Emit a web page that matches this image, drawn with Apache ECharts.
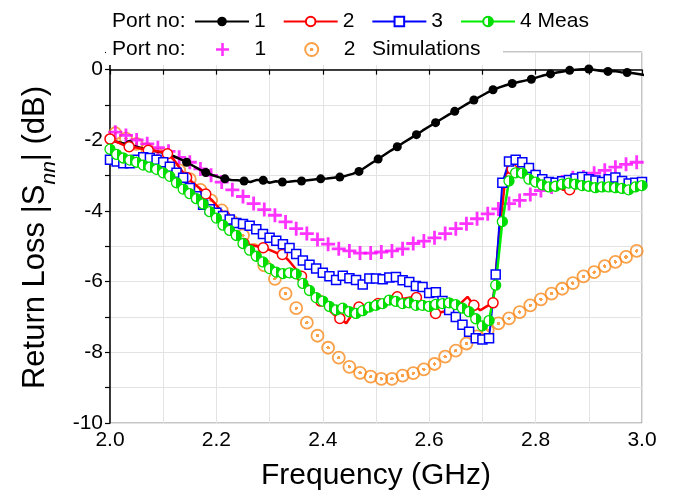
<!DOCTYPE html>
<html>
<head>
    <meta charset="utf-8">
    <title>Return loss</title>
    <script src="https://cdn.jsdelivr.net/npm/echarts@6/dist/echarts.min.js"></script>
    <style>
        html, body { margin: 0; padding: 0; background: #fff; }
        #chart { width: 675px; height: 498px; }
    </style>
</head>
<body>
<div id="chart"></div>
<script>
    // frequency grids (GHz)
    function grid(start, step, n) {
        var out = [];
        for (var i = 0; i < n; i++) out.push(+(start + i * step).toFixed(4));
        return out;
    }
    var freqA = grid(2.0, 0.012, 85);    // port 1 / port 2 measured
    var freqB = grid(2.0, 0.0125, 81);   // port 3 / port 4 measured
    var freqSim = grid(2.01, 0.02, 50);  // simulations

    // measured |Snn| (dB)
    var meas1 = [-2.00, -2.04, -2.08, -2.12, -2.17, -2.22, -2.27, -2.30, -2.34, -2.38,
        -2.45, -2.53, -2.62, -2.72, -2.82, -2.91, -2.98, -3.04, -3.09, -3.12,
        -3.13, -3.15, -3.18, -3.12, -3.13, -3.20, -3.16, -3.18, -3.17, -3.15,
        -3.15, -3.13, -3.11, -3.09, -3.08, -3.06, -3.04, -3.00, -2.95, -2.88,
        -2.76, -2.64, -2.53, -2.41, -2.29, -2.18, -2.06, -1.95, -1.84, -1.72,
        -1.61, -1.50, -1.39, -1.28, -1.18, -1.07, -0.96, -0.86, -0.76, -0.66,
        -0.57, -0.50, -0.44, -0.39, -0.35, -0.31, -0.27, -0.21, -0.16, -0.12,
        -0.08, -0.05, -0.02, 0.00, 0.01, 0.02, -0.01, -0.04, -0.05, -0.04,
        -0.07, -0.08, -0.10, -0.13, -0.16];
    var meas2 = [-1.96, -2.04, -2.12, -2.18, -2.20, -2.24, -2.28, -2.30, -2.32, -2.38,
        -2.55, -2.80, -3.05, -3.20, -3.35, -3.52, -3.70, -3.90, -4.15, -4.45,
        -4.75, -4.92, -4.96, -5.00, -5.04, -5.10, -5.18, -5.23, -5.40, -5.62,
        -5.85, -6.10, -6.35, -6.55, -6.75, -6.92, -7.04, -7.18, -6.90, -6.72,
        -6.70, -6.66, -6.62, -6.58, -6.50, -6.43, -6.48, -6.45, -6.45, -6.60,
        -6.76, -6.90, -6.86, -6.83, -6.80, -6.60, -6.43, -6.67, -6.81, -6.70,
        -6.60, -4.60, -2.95, -2.82, -2.80, -2.85, -2.95, -2.98, -3.10, -3.22,
        -3.30, -3.40, -3.40, -3.30, -3.25, -3.24, -3.26, -3.24, -3.28, -3.30,
        -3.28, -3.30, -3.32, -3.30, -3.28];
    var meas3 = [-2.55, -2.60, -2.65, -2.65, -2.55, -2.48, -2.50, -2.55, -2.62, -2.75,
        -2.92, -3.06, -3.35, -3.58, -3.82, -3.95, -4.05, -4.14, -4.24, -4.34,
        -4.37, -4.42, -4.52, -4.65, -4.76, -4.84, -4.94, -5.05, -5.22, -5.40,
        -5.52, -5.63, -5.75, -5.85, -5.95, -5.83, -5.90, -5.95, -6.08, -5.91,
        -5.91, -5.93, -5.88, -5.87, -5.96, -6.01, -6.12, -6.15, -6.32, -6.30,
        -6.55, -6.80, -7.00, -7.22, -7.42, -7.60, -7.64, -7.60, -5.80, -3.20,
        -2.60, -2.55, -2.62, -2.78, -2.98, -3.10, -3.18, -3.20, -3.16, -3.12,
        -3.08, -3.04, -3.10, -3.14, -3.18, -3.10, -3.05, -3.15, -3.22, -3.20,
        -3.18];
    var meas4 = [-2.25, -2.40, -2.50, -2.56, -2.62, -2.70, -2.76, -2.82, -2.92, -3.02,
        -3.20, -3.38, -3.51, -3.65, -3.80, -4.02, -4.20, -4.40, -4.55, -4.69,
        -4.92, -5.11, -5.28, -5.44, -5.63, -5.73, -5.77, -5.75, -5.78, -6.05,
        -6.25, -6.45, -6.55, -6.70, -6.80, -6.75, -6.85, -6.90, -6.82, -6.72,
        -6.67, -6.62, -6.52, -6.56, -6.62, -6.60, -6.67, -6.67, -6.70, -6.64,
        -6.62, -6.60, -6.65, -6.75, -6.85, -7.05, -7.25, -7.10, -6.10, -4.30,
        -3.15, -2.92, -2.93, -3.10, -3.18, -3.26, -3.32, -3.30, -3.24, -3.21,
        -3.24, -3.28, -3.30, -3.34, -3.32, -3.32, -3.34, -3.36, -3.40, -3.32,
        -3.28];

    // simulated |Snn| (dB)
    var sim1 = [-1.77, -1.86, -1.99, -2.10, -2.21, -2.31, -2.48, -2.62, -2.81, -2.99,
        -3.18, -3.40, -3.59, -3.79, -3.96, -4.12, -4.31, -4.50, -4.64, -4.81,
        -4.94, -5.07, -5.13, -5.19, -5.19, -5.16, -5.13, -5.07, -4.92, -4.85,
        -4.76, -4.64, -4.50, -4.36, -4.22, -4.08, -3.94, -3.79, -3.70, -3.53,
        -3.42, -3.32, -3.18, -3.06, -3.04, -2.93, -2.85, -2.76, -2.68, -2.62];
    var sim2 = [-1.80, -1.95, -2.10, -2.25, -2.40, -2.62, -2.85, -3.10, -3.40, -3.70,
        -3.98, -4.30, -4.69, -5.10, -5.54, -5.92, -6.34, -6.75, -7.16, -7.53,
        -7.87, -8.15, -8.41, -8.58, -8.69, -8.75, -8.75, -8.66, -8.59, -8.48,
        -8.33, -8.12, -7.95, -7.75, -7.55, -7.37, -7.18, -7.04, -6.86, -6.67,
        -6.50, -6.34, -6.20, -6.04, -5.85, -5.73, -5.56, -5.44, -5.30, -5.13];

    var legendText = {m1: '1', m2: '2', m3: '3', m4: '4 Meas', s1: '1', s2: '2'};
    var font = 'Arial, "Liberation Sans", sans-serif';

    function pairs(xs, ys, every) {
        return ys.map(function (v, i) {
            var item = {value: [xs[i], v]};
            if (every && i % every !== 0) item.symbol = 'none';
            return item;
        });
    }

    var chart = echarts.init(document.getElementById('chart'));
    var option = {
        animation: false,
        backgroundColor: '#fff',
        grid: {
            left: 110, right: 33, top: 52, bottom: 75,
            show: true, borderColor: '#8a8a8a', borderWidth: 1
        },
        legend: [{
            data: ['m1', 'm2', 'm3', 'm4'],
            left: 194, top: 11, padding: 0,
            itemWidth: 54, itemHeight: 12, itemGap: 17, z: 110,
            formatter: function (n) { return legendText[n]; },
            textStyle: {fontSize: 21, color: '#000', fontFamily: font}
        }, {
            data: ['s1', 's2'],
            left: 216, top: 39, padding: 0,
            itemWidth: 54, itemHeight: 13, itemGap: 38, z: 110,
            formatter: function (n) { return legendText[n]; },
            textStyle: {fontSize: 21, color: '#000', fontFamily: font}
        }],
        graphic: [
            {type: 'rect', z: 100, shape: {x: 106, y: 0, width: 397, height: 65}, style: {fill: '#fff'}},
            {type: 'text', z: 110, left: 112, top: 11,
                style: {text: 'Port no:', fontSize: 21, fill: '#000', fontFamily: font}},
            {type: 'text', z: 110, left: 112, top: 39,
                style: {text: 'Port no:', fontSize: 21, fill: '#000', fontFamily: font}},
            {type: 'text', z: 110, left: 372, top: 39,
                style: {text: 'Simulations', fontSize: 21, fill: '#000', fontFamily: font}}
        ],
        xAxis: {
            type: 'value', min: 2, max: 3, interval: 0.1,
            name: 'Frequency (GHz)', nameLocation: 'middle', nameGap: 38,
            nameTextStyle: {fontSize: 30, color: '#000', fontFamily: font},
            axisLine: {lineStyle: {color: '#000', width: 1.5}},
            axisTick: {length: 5, lineStyle: {color: '#000', width: 1.2}},
            axisLabel: {
                fontSize: 21, color: '#000', fontFamily: font, margin: 7,
                formatter: function (v) { return Math.round(v * 10) % 2 === 0 ? v.toFixed(1) : ''; }
            },
            splitLine: {lineStyle: {color: '#e3e3e3', width: 1}}
        },
        yAxis: {
            type: 'value', min: -10, max: 0.5, interval: 1,
            name: '{t|Return Loss |S}{s|nn}{t|| (dB)}', nameLocation: 'middle', nameGap: 57,
            nameTextStyle: {
                color: '#000', fontFamily: font,
                rich: {
                    t: {fontSize: 31, color: '#000', fontFamily: font, lineHeight: 36},
                    s: {fontSize: 21, fontStyle: 'italic', color: '#000', fontFamily: font,
                        verticalAlign: 'bottom', lineHeight: 36, padding: [0, 0, -7, 0]}
                }
            },
            axisLine: {show: true, lineStyle: {color: '#000', width: 1.5}},
            axisTick: {show: true, length: 5, lineStyle: {color: '#000', width: 1.2}},
            axisLabel: {
                fontSize: 21, color: '#000', fontFamily: font, margin: 7,
                formatter: function (v) { return (v <= 0 && Math.abs(v % 2) < 1e-9) ? String(v) : ''; }
            },
            splitLine: {lineStyle: {color: '#e3e3e3', width: 1}}
        },
        series: [
            {
                name: 's2', type: 'scatter', data: pairs(freqSim, sim2), symbol: 'circle', symbolSize: 12,
                itemStyle: {
                    color: new echarts.graphic.RadialGradient(0.5, 0.5, 0.5, [
                        {offset: 0, color: '#f98a1c'}, {offset: 0.24, color: '#f98a1c'},
                        {offset: 0.25, color: 'rgba(255,255,255,0)'}, {offset: 1, color: 'rgba(255,255,255,0)'}
                    ]),
                    borderColor: '#f98a1c', borderWidth: 1.8
                }
            },
            {
                name: 's1', type: 'scatter', data: pairs(freqSim, sim1), symbolSize: 14,
                symbol: 'path://M4,0h2v4h4v2h-4v4h-2v-4h-4v-2h4z',
                itemStyle: {color: '#ff00ff'}
            },
            {
                name: 'm1', type: 'line', data: pairs(freqA, meas1, 3), symbol: 'circle', symbolSize: 9,
                showAllSymbol: true, lineStyle: {color: '#000', width: 2.5},
                itemStyle: {color: '#000'}
            },
            {
                name: 'm2', type: 'line', data: pairs(freqA, meas2, 3), symbol: 'circle', symbolSize: 10,
                showAllSymbol: true, lineStyle: {color: '#ff0000', width: 2.5},
                itemStyle: {color: '#fff', borderColor: '#ff0000', borderWidth: 1.5}
            },
            {
                name: 'm3', type: 'line', data: pairs(freqB, meas3), symbol: 'rect', symbolSize: 9,
                showAllSymbol: true, lineStyle: {color: '#0000ff', width: 2},
                itemStyle: {color: '#fff', borderColor: '#0000ff', borderWidth: 1.5}
            },
            {
                name: 'm4', type: 'line', data: pairs(freqB, meas4), symbol: 'circle', symbolSize: 10,
                showAllSymbol: true, lineStyle: {color: '#00ee00', width: 2.5},
                itemStyle: {
                    color: new echarts.graphic.LinearGradient(0, 0, 1, 0, [
                        {offset: 0, color: '#fff'}, {offset: 0.5, color: '#fff'},
                        {offset: 0.5, color: '#00dd00'}, {offset: 1, color: '#00dd00'}
                    ]),
                    borderColor: '#00dd00', borderWidth: 1.3
                }
            }
        ]
    };
    chart.setOption(option);
</script>
</body>
</html>
